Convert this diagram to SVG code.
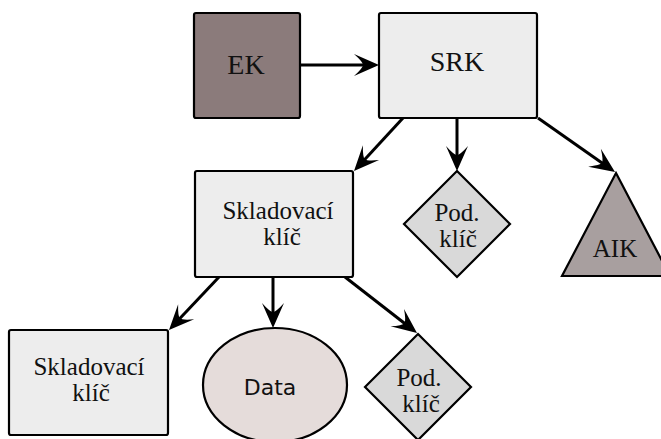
<svg xmlns="http://www.w3.org/2000/svg" xmlns:xlink="http://www.w3.org/1999/xlink" width="661" height="439" viewBox="0 0 661 439">
<defs>
<style>
.box{stroke:#000;stroke-width:2.2}
.lt{fill:#ededed}
.t{font-family:"Liberation Serif","Times New Roman",serif;font-size:25px;fill:#111;text-anchor:middle}
.big{font-size:28px}
.s{font-family:"DejaVu Sans","Liberation Sans",sans-serif;font-size:22px;fill:#111;text-anchor:middle}
.c{stroke:#000;stroke-width:3;fill:none}
</style>
<path id="ahp" d="M0,0 L-25,-11 Q-16,-3 -16,0 Q-16,3 -25,11 Z" fill="#000"/>
</defs>
<rect width="661" height="439" fill="#fff"/>
<g id="connectors">
<line class="c" x1="300" y1="65" x2="366" y2="65"/>
<use xlink:href="#ahp" transform="translate(379,65)"/>
<line class="c" x1="403" y1="118" x2="361.5" y2="163"/>
<use xlink:href="#ahp" transform="translate(354,171) rotate(132.75)"/>
<line class="c" x1="457" y1="118" x2="457" y2="160"/>
<use xlink:href="#ahp" transform="translate(457,171) rotate(90)"/>
<line class="c" x1="538" y1="118" x2="606" y2="165.7"/>
<use xlink:href="#ahp" transform="translate(615,172) rotate(35.04)"/>
<line class="c" x1="219" y1="277" x2="176.5" y2="322"/>
<use xlink:href="#ahp" transform="translate(169,330) rotate(133.3)"/>
<line class="c" x1="273" y1="277" x2="273" y2="317"/>
<use xlink:href="#ahp" transform="translate(273,328) rotate(90)"/>
<line class="c" x1="345" y1="277" x2="408.3" y2="326.2"/>
<use xlink:href="#ahp" transform="translate(417,333) rotate(37.87)"/>
</g>
<g id="ek">
<rect class="box" x="194" y="13" width="106" height="105" rx="2" fill="#8b7b7b"/>
<text class="t big" x="246" y="74">EK</text>
</g>
<g id="srk">
<rect class="box lt" x="379" y="13" width="158" height="105" rx="2"/>
<text class="t big" x="457" y="71">SRK</text>
</g>
<g id="sklad1">
<rect class="box lt" x="195" y="171" width="158" height="106" rx="2"/>
<text class="t" x="278" y="219">Skladovací</text>
<text class="t" x="282" y="245">klíč</text>
</g>
<g id="pod1">
<polygon class="box" points="457,171 510,224 457,277 404,224" fill="#d9d9d9"/>
<text class="t" x="457" y="221">Pod.</text>
<text class="t" x="458" y="247">klíč</text>
</g>
<g id="aik">
<polygon class="box" points="616,173 670,276 562,276" fill="#a89f9f"/>
<text class="t" x="615" y="257">AIK</text>
</g>
<g id="sklad2">
<rect class="box lt" x="9" y="330" width="159" height="105" rx="2"/>
<text class="t" x="89" y="375">Skladovací</text>
<text class="t" x="91" y="401">klíč</text>
</g>
<g id="data">
<ellipse class="box" cx="275" cy="385" rx="72" ry="57" fill="#e5dcda"/>
<text class="s" x="270" y="395">Data</text>
</g>
<g id="pod2">
<polygon class="box" points="418,334 471,387 418,440 365,387" fill="#d9d9d9"/>
<text class="t" x="419" y="386">Pod.</text>
<text class="t" x="421" y="412">klíč</text>
</g>
</svg>
